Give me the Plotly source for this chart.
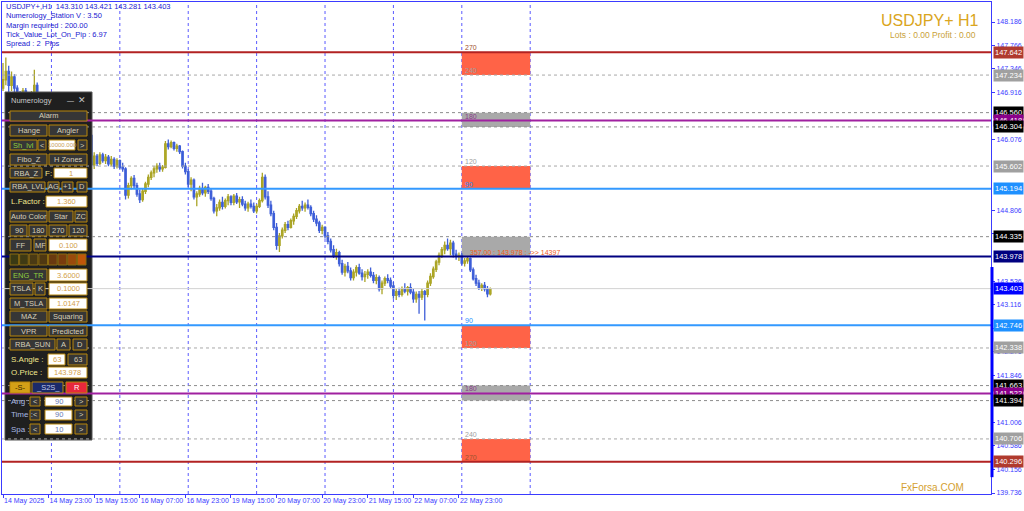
import plotly.graph_objects as go

# ---------------- DATA ----------------
bar_idx = list(range(172))
opens = [147.00,147.15,147.30,147.05,147.20,147.00,146.90,146.85,146.95,146.90,146.80,146.88,147.05,
         146.90,146.80,146.75,146.70,146.72,146.65,146.60,146.55,146.58,146.50,146.45,146.48,146.40,146.35,146.30,146.32,146.25,146.20,
         146.15,145.62,145.78,145.65,145.80,145.70,145.76,145.64,145.72,145.60,145.70,145.58,145.55,145.08,145.25,145.38,145.25,145.10,
         145.00,145.15,145.28,145.40,145.48,145.55,145.60,145.55,145.58,146.00,145.95,146.02,145.92,145.96,145.86,145.60,145.50,145.28,
         145.35,145.05,145.10,145.20,145.12,145.22,145.15,145.02,144.80,144.85,144.95,144.88,144.98,145.05,144.95,145.06,144.96,145.00,
         144.92,144.85,144.92,144.88,144.80,144.88,144.98,145.40,145.05,144.90,144.75,144.50,144.18,144.35,144.45,144.55,144.50,144.62,
         144.70,144.80,144.88,144.85,144.90,144.86,144.75,144.65,144.58,144.45,144.50,144.35,144.25,144.10,144.00,144.05,143.85,143.70,
         143.80,143.72,143.60,143.70,143.78,143.68,143.62,143.66,143.70,143.64,143.55,143.60,143.40,143.50,143.58,143.55,143.45,143.28,
         143.35,143.30,143.40,143.36,143.42,143.34,143.22,143.30,143.25,143.35,143.30,143.50,143.62,143.75,143.88,144.00,144.10,144.18,
         144.12,144.22,144.02,143.98,144.00,143.86,143.90,143.94,143.74,143.58,143.50,143.42,143.46,143.40,143.310]
highs = [147.45,147.55,147.40,147.30,147.25,147.05,146.95,147.00,147.00,146.92,146.95,147.33,147.10,
         146.92,146.85,146.80,146.78,146.76,146.70,146.65,146.62,146.62,146.55,146.52,146.52,146.45,146.40,146.36,146.36,146.30,146.25,
         146.22,145.85,145.82,145.85,145.84,145.82,145.80,145.78,145.76,145.74,145.72,145.66,145.58,145.30,145.42,145.44,145.30,145.18,
         145.20,145.32,145.45,145.52,145.60,145.65,145.66,145.62,146.05,146.08,146.06,146.04,146.00,145.98,145.88,145.66,145.55,145.40,
         145.38,145.15,145.25,145.30,145.25,145.28,145.20,145.05,144.92,145.00,145.05,145.02,145.10,145.08,145.10,145.12,145.05,145.06,
         144.98,144.96,145.00,144.95,144.92,145.02,145.48,145.45,145.15,144.98,144.80,144.58,144.40,144.50,144.60,144.62,144.66,144.75,
         144.85,144.92,144.98,144.95,145.00,144.90,144.80,144.72,144.62,144.55,144.52,144.42,144.30,144.18,144.12,144.08,143.92,143.85,
         143.88,143.78,143.75,143.82,143.85,143.75,143.72,143.75,143.78,143.70,143.66,143.64,143.55,143.62,143.66,143.60,143.52,143.40,
         143.42,143.44,143.50,143.45,143.50,143.40,143.35,143.36,143.40,143.38,143.55,143.68,143.80,143.92,144.05,144.15,144.25,144.30,
         144.28,144.26,144.10,144.05,144.04,143.95,143.98,143.96,143.78,143.65,143.56,143.50,143.52,143.45,143.421]
lows = [146.95,147.05,146.85,146.95,146.90,146.80,146.75,146.80,146.82,146.70,146.75,146.85,146.85,
        146.75,146.70,146.66,146.64,146.60,146.55,146.50,146.50,146.45,146.40,146.40,146.35,146.30,146.26,146.25,146.20,146.15,146.10,
        145.58,145.55,145.60,145.62,145.66,145.64,145.60,145.60,145.55,145.56,145.55,145.50,145.00,145.02,145.18,145.20,145.05,144.94,
        144.96,145.10,145.22,145.35,145.40,145.48,145.50,145.50,145.56,145.90,145.92,145.88,145.86,145.82,145.56,145.45,145.22,145.15,
        145.00,144.88,145.05,145.08,145.05,145.10,144.98,144.75,144.70,144.80,144.82,144.84,144.90,144.90,144.90,144.92,144.85,144.88,
        144.80,144.78,144.84,144.76,144.75,144.85,144.95,145.00,144.85,144.70,144.45,144.10,144.06,144.30,144.40,144.45,144.48,144.55,
        144.65,144.75,144.80,144.78,144.82,144.70,144.60,144.52,144.40,144.38,144.30,144.20,144.05,143.95,143.92,143.80,143.65,143.62,
        143.68,143.55,143.55,143.62,143.65,143.55,143.52,143.58,143.60,143.50,143.48,143.35,143.30,143.45,143.50,143.40,143.22,143.20,
        143.25,143.26,143.32,143.28,143.30,143.15,143.15,142.95,143.20,142.83,143.25,143.45,143.58,143.70,143.82,143.95,144.02,144.08,
        144.00,143.96,143.92,143.90,143.82,143.80,143.85,143.70,143.55,143.45,143.38,143.36,143.35,143.25,143.281]
closes = opens[1:] + [143.403]

xtick_idx = [0, 16, 32, 48, 64, 80, 96, 112, 128, 144, 160]
xtick_text = ["14 May 2025", "14 May 23:00", "15 May 15:00", "16 May 07:00", "16 May 23:00",
              "19 May 15:00", "20 May 07:00", "20 May 23:00", "21 May 15:00", "22 May 07:00", "22 May 23:00"]
day_sep_idx = [17, 41, 65, 89, 113, 137, 161, 185]

ytick_vals = [148.186, 147.766, 147.346, 146.916, 146.076, 144.806, 144.386,
              143.536, 143.116, 142.696, 142.276, 141.846, 141.006, 140.586, 140.156, 139.736]

level_prices = [147.642, 147.234, 146.560, 146.418, 146.304, 145.602, 145.194, 144.335, 143.978,
                142.746, 142.338, 141.663, 141.522, 141.394, 140.706, 140.296]
level_kinds = ["red", "gray", "black", "purple", "black", "gray", "blue", "black", "navy",
               "blue", "gray", "black", "purple", "black", "gray", "red"]
current_price = 143.403

zone_top = [147.642, 146.560, 145.602, 144.335, 142.746, 141.663, 140.706]
zone_bot = [147.234, 146.304, 145.194, 143.978, 142.338, 141.394, 140.296]
zone_kind = ["red", "gray", "red", "gray", "red", "gray", "red"]
zone_start, zone_end = 161, 185

degree_prices = [147.642, 147.234, 146.418, 145.602, 145.194, 142.746, 142.338, 141.522, 140.706, 140.296]
degree_text = ["270", "240", "180", "120", "90", "90", "120", "180", "240", "270"]
degree_kind = ["red", "gray", "purple", "gray", "blue", "blue", "gray", "purple", "gray", "red"]
center_text = "357.00 : 143.978 : ->> 14397"

header_lines = ["USDJPY+,H1  143.310 143.421 143.281 143.403", "Numerology_Station V : 3.50",
                "Margin required : 200.00", "Tick_Value_Lot_On_Pip : 6.97", "Spread : 2  Pips"]

# ---------------- STYLE ----------------
W, H = 1024, 511
PL, PR, PT, PB = 2, 991, 2, 494
YMIN, YMAX = 139.718, 148.545
XMIN, XMAX = -0.35, 346.7
AXC = "#3b3bff"
FONT = "Liberation Sans"

line_style = {
    "red": dict(color="#b22222", width=2, dash="solid", bg="#b03a2e"),
    "gray": dict(color="#a8a8a8", width=1, dash="dot", bg="#a0a0a0"),
    "black": dict(color="#8c8c8c", width=1, dash="dot", bg="#000000"),
    "purple": dict(color="#a020a0", width=2, dash="solid", bg="#8b008b"),
    "blue": dict(color="#3399ff", width=2, dash="solid", bg="#1e90ff"),
    "navy": dict(color="#000080", width=2, dash="solid", bg="#000080"),
}
zone_fill = {"red": "#ff6347", "gray": "#a9a9a9"}
deg_color = {"red": "#a0522d", "gray": "#a0a0a0", "purple": "#8b3a8b", "blue": "#1e90ff"}


def fx(px):
    return (px - PL) / (PR - PL)


def fy(py):
    return (PB - py) / (PB - PT)


fig = go.Figure()
fig.add_trace(go.Candlestick(
    x=bar_idx, open=opens, high=highs, low=lows, close=closes,
    increasing=dict(line=dict(color="#aaa426", width=1.3), fillcolor="#d4ca10"),
    decreasing=dict(line=dict(color="#3f5fd8", width=1.3), fillcolor="#1a4cd4"),
    whiskerwidth=0, showlegend=False, hoverinfo="skip"))

shapes = []
annos = []

# zones (below candles)
for t, b, k in zip(zone_top, zone_bot, zone_kind):
    shapes.append(dict(type="rect", xref="x", yref="y", x0=zone_start, x1=zone_end, y0=b, y1=t,
                       fillcolor=zone_fill[k], line=dict(width=0), layer="below"))
# day separators
for d in day_sep_idx:
    shapes.append(dict(type="line", xref="x", yref="paper", x0=d, x1=d, y0=0, y1=1,
                       line=dict(color="#5a5aff", width=1, dash="dot"), layer="below"))

# panel background (above candles)
PX0, PY0, PX1, PY1 = 5, 92, 92, 440
shapes.append(dict(type="rect", xref="paper", yref="paper", x0=fx(PX0), x1=fx(PX1), y0=fy(PY1), y1=fy(PY0),
                   fillcolor="#1f1f1f", line=dict(color="#555555", width=1), layer="above"))

# current price line
shapes.append(dict(type="line", xref="paper", yref="y", x0=0, x1=1, y0=current_price, y1=current_price,
                   line=dict(color="#d3d3d3", width=1), layer="above"))
# level lines
for p, k in zip(level_prices, level_kinds):
    s = line_style[k]
    shapes.append(dict(type="line", xref="paper", yref="y", x0=0, x1=1, y0=p, y1=p,
                       line=dict(color=s["color"], width=s["width"], dash=s["dash"]), layer="above"))
# thick blue bar on axis
shapes.append(dict(type="line", xref="paper", yref="y", x0=1.001, x1=1.001, y0=140.02, y1=143.79,
                   line=dict(color="#0000ff", width=3), layer="above"))

# panel widgets
widgets = [
    (10, 111, 87, 121, "Alarm", "btn"),
    (10, 125, 47, 136, "Hange", "btn"), (49, 125, 87, 136, "Angler", "btn"),
    (10, 140, 37, 150, "Sh_lvl", "btng"), (38, 140, 46, 150, "<", "btn"), (49, 140, 75, 150, "10000.000", "inps"),
    (78, 140, 87, 150, ">", "btn"),
    (10, 154, 47, 165, "Fibo_Z", "btn"), (49, 154, 87, 165, "H Zones", "btn"),
    (10, 168, 42, 178, "RBA_Z", "btn"), (43, 168, 53, 178, "F:", "lab"), (54, 168, 87, 178, "1", "inp"),
    (10, 182, 45, 192, "RBA_LVL", "btn"), (48, 182, 59, 192, "AG", "btn"), (62, 182, 73, 192, "+1", "btn"),
    (77, 182, 87, 192, "D", "btn"),
    (9, 196, 44, 207, "L.Factor :", "lab"), (46, 196, 87, 207, "1.360", "inp"),
    (10, 211, 47, 222, "Auto Color", "btn"), (49, 211, 73, 222, "Star", "btn"), (75, 211, 87, 222, "ZC", "btn"),
    (10, 225, 27, 236, "90", "btn"), (29, 225, 47, 236, "180", "btn"), (49, 225, 67, 236, "270", "btn"),
    (69, 225, 87, 236, "120", "btn"),
    (10, 239, 31, 251, "FF", "btn"), (34, 239, 46, 251, "MF", "btn"), (49, 239, 87, 251, "0.100", "inp"),
    (10, 269, 47, 281, "ENG_TR", "btng"), (49, 269, 87, 281, "3.6000", "inp"),
    (10, 283, 33, 295, "TSLA", "btn"), (35, 283, 45, 295, "K", "btn"), (49, 283, 87, 295, "0.1000", "inp"),
    (10, 298, 47, 309, "M_TSLA", "btn"), (49, 298, 87, 309, "1.0147", "inp"),
    (10, 311, 47, 322, "MAZ", "btn"), (49, 311, 87, 322, "Squaring", "btn"),
    (10, 326, 47, 336, "VPR", "btn"), (49, 326, 87, 336, "Predicted", "btn"),
    (10, 339, 55, 350, "RBA_SUN", "btn"), (57, 339, 70, 350, "A", "btn"), (73, 339, 87, 350, "D", "btn"),
    (9, 354, 45, 365, "S.Angle :", "lab"), (48, 354, 65, 365, "63", "inp"), (68, 354, 87, 365, "63", "btn"),
    (9, 367, 45, 378, "O.Price :", "lab"), (48, 367, 87, 378, "143.978", "inp"),
    (10, 382, 30, 393, "-S-", "gold"), (32, 382, 63, 393, "_S2S_", "navy"), (66, 382, 87, 393, "R", "redb"),
    (9, 397, 28, 406, "Ang :", "labb"), (30, 397, 40, 406, "<", "btn"), (45, 397, 72, 406, "90", "inpb"),
    (75, 397, 87, 406, ">", "btn"),
    (9, 410, 28, 420, "Time :", "labb"), (30, 410, 40, 420, "<", "btn"), (45, 410, 72, 420, "90", "inpb"),
    (75, 410, 87, 420, ">", "btn"),
    (9, 424, 28, 434, "Spa :", "labb"), (30, 424, 40, 434, "<", "btn"), (45, 424, 72, 434, "10", "inpb"),
    (75, 424, 87, 434, ">", "btn"),
]
kind_style = {
    "btn": ("#363636", "#b8860b", "#d6cfb8"),
    "btng": ("#363636", "#b8860b", "#8fce3f"),
    "inp": ("#ffffff", "#b8860b", "#d2a04a"),
    "inps": ("#ffffff", "#b8860b", "#c8a060"),
    "inpb": ("#ffffff", "#b8860b", "#6a7ab0"),
    "lab": (None, None, "#f0e68c"),
    "labb": (None, None, "#a8b8e0"),
    "gold": ("#d4a017", "#b8860b", "#3a2a00"),
    "navy": ("#1a2a6a", "#b8860b", "#c0c8e8"),
    "redb": ("#e8283c", "#b8860b", "#ffffff"),
}
for x0, y0, x1, y1, txt, k in widgets:
    fill, border, tcol = kind_style[k]
    if fill:
        shapes.append(dict(type="rect", xref="paper", yref="paper", x0=fx(x0), x1=fx(x1), y0=fy(y1), y1=fy(y0),
                           fillcolor=fill, line=dict(color=border, width=1), layer="above"))
    size = 6 if txt == "10000.000" else 7.5
    if k in ("lab", "labb"):
        annos.append(dict(xref="paper", yref="paper", x=fx(x0), y=fy((y0 + y1) / 2), text=txt, showarrow=False,
                          xanchor="left", yanchor="middle", font=dict(family=FONT, size=8, color=tcol)))
    else:
        annos.append(dict(xref="paper", yref="paper", x=fx((x0 + x1) / 2), y=fy((y0 + y1) / 2), text=txt,
                          showarrow=False, xanchor="center", yanchor="middle",
                          font=dict(family=FONT, size=size, color=tcol)))
# color strip
strip_cols = ["#3a3a14", "#3f3a14", "#4a3a14", "#4f3812", "#6a3a10", "#7a3c0e", "#9a4a0c", "#c0560a"]
cw = (87 - 10) / len(strip_cols)
for i, c in enumerate(strip_cols):
    shapes.append(dict(type="rect", xref="paper", yref="paper", x0=fx(10 + i * cw), x1=fx(10 + (i + 1) * cw - 1),
                       y0=fy(265), y1=fy(254), fillcolor=c, line=dict(color="#8a6a10", width=1), layer="above"))
# title bar text
annos.append(dict(xref="paper", yref="paper", x=fx(9), y=fy(100), text="Numerology", showarrow=False,
                  xanchor="left", yanchor="middle", font=dict(family=FONT, size=7.5, color="#c8c8c8")))
annos.append(dict(xref="paper", yref="paper", x=fx(70), y=fy(100), text="—", showarrow=False,
                  xanchor="center", yanchor="middle", font=dict(family=FONT, size=7, color="#c8c8c8")))
annos.append(dict(xref="paper", yref="paper", x=fx(82), y=fy(100), text="✕", showarrow=False,
                  xanchor="center", yanchor="middle", font=dict(family=FONT, size=9, color="#c8c8c8")))

# level labels on the right axis
for p, k in zip(level_prices, level_kinds):
    annos.append(dict(xref="paper", yref="y", x=1, y=p, text=f"{p:.3f}", showarrow=False, xanchor="left",
                      yanchor="middle", xshift=2, bgcolor=line_style[k]["bg"], borderpad=1,
                      font=dict(family=FONT, size=7.5, color="#ffffff")))
annos.append(dict(xref="paper", yref="y", x=1, y=current_price, text=f"{current_price:.3f}", showarrow=False,
                  xanchor="left", yanchor="middle", xshift=2, bgcolor="#0000ff", borderpad=1,
                  font=dict(family=FONT, size=7.5, color="#ffffff")))

# degree texts
for p, t, k in zip(degree_prices, degree_text, degree_kind):
    annos.append(dict(xref="x", yref="y", x=zone_start, y=p, text=t, showarrow=False, xanchor="left",
                      yanchor="bottom", xshift=1, yshift=-1, font=dict(family=FONT, size=7, color=deg_color[k])))
annos.append(dict(xref="x", yref="y", x=zone_start, y=143.978, text=center_text, showarrow=False, xanchor="left",
                  yanchor="bottom", xshift=6, yshift=-1, font=dict(family=FONT, size=7, color="#f05a1a")))

# header text
for i, t in enumerate(header_lines):
    annos.append(dict(xref="paper", yref="paper", x=fx(4), y=fy(7 + 9 * i), text=t, showarrow=False,
                      xanchor="left", yanchor="middle", font=dict(family=FONT, size=7.5, color="#2020d0")))
annos.append(dict(xref="paper", yref="paper", x=fx(980), y=fy(20), text="USDJPY+ H1", showarrow=False,
                  xanchor="right", yanchor="middle", font=dict(family=FONT, size=16, color="#daa520")))
annos.append(dict(xref="paper", yref="paper", x=fx(978), y=fy(35), text="Lots : 0.00 Profit : 0.00",
                  showarrow=False, xanchor="right", yanchor="middle",
                  font=dict(family=FONT, size=8.5, color="#c9a23a")))
annos.append(dict(xref="paper", yref="paper", x=fx(966), y=fy(487), text="FxForsa.COM", showarrow=False,
                  xanchor="right", yanchor="middle", font=dict(family=FONT, size=10, color="#d4a030")))

fig.update_layout(
    width=W, height=H, margin=dict(l=PL, r=W - PR, t=PT, b=H - PB, autoexpand=False),
    paper_bgcolor="#ffffff", plot_bgcolor="#ffffff", shapes=shapes, annotations=annos,
    font=dict(family=FONT, size=8, color=AXC), showlegend=False,
    xaxis=dict(range=[XMIN, XMAX], tickvals=xtick_idx, ticktext=xtick_text, showgrid=False, zeroline=False,
               rangeslider=dict(visible=False), ticks="outside", ticklen=3, tickcolor=AXC, tickangle=0,
               automargin=False, ticklabelposition="outside right",
               tickfont=dict(family=FONT, size=7, color=AXC),
               showline=True, linecolor=AXC, linewidth=1, mirror=True),
    yaxis=dict(range=[YMIN, YMAX], tickvals=ytick_vals, ticktext=[f"{v:.3f}" for v in ytick_vals],
               side="right", showgrid=False, zeroline=False, ticks="outside", ticklen=3, tickcolor=AXC,
               automargin=False, tickfont=dict(family=FONT, size=7, color=AXC), showline=True, linecolor=AXC,
               linewidth=1, mirror=True),
)
fig.write_html("out.html", config={"displayModeBar": False},
               post_script="document.body.style.margin='0px';document.body.style.overflow='hidden';")
